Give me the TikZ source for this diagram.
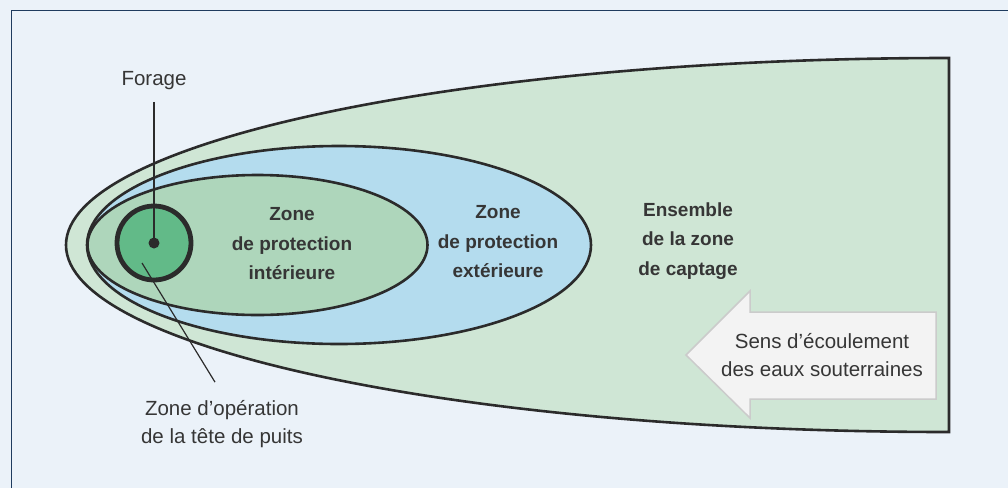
\documentclass[tikz,border=0pt]{standalone}
\usepackage{fontspec}
\setmainfont{Liberation Sans}
\usepackage{xcolor}
\usepackage{tikz}
\definecolor{bgblue}{HTML}{EBF2F9}
\definecolor{framenavy}{HTML}{1F3B5E}
\definecolor{captage}{HTML}{CFE6D5}
\definecolor{exterieure}{HTML}{B4DCEE}
\definecolor{interieure}{HTML}{AED6BB}
\definecolor{puits}{HTML}{62BA88}
\definecolor{ink}{HTML}{2B2B2B}
\definecolor{txt}{HTML}{363636}
\definecolor{arrowfill}{HTML}{F3F3F3}
\definecolor{arrowline}{HTML}{CBCBCB}

\begin{document}
\begin{tikzpicture}[x=1pt, y=1pt,
        zone/.style={draw=ink, line width=2.6pt},
        lbl/.style={align=center, text=txt, inner sep=0pt,
                    font=\fontsize{20.5}{28}\selectfont},
        zlbl/.style={lbl, font=\fontsize{19}{29.5}\selectfont\bfseries},
        lead/.style={draw=ink, line width=1.2pt},
        flow/.style={fill=arrowfill, draw=arrowline, line width=1.5pt}
    ]
        \fill[bgblue] (0,0) rectangle (1008,-488);
        \useasboundingbox (0,0) rectangle (1008,-488);
        \draw[framenavy, line width=1.6pt] (11.5,-488) -- (11.5,-10.5) -- (1008,-10.5);

        \draw[zone, fill=captage] (949,-432) -- (949,-58)
            arc[start angle=90, end angle=270, x radius=883pt, y radius=187pt] -- cycle;
        \draw[zone, fill=exterieure] (339,-245) ellipse[x radius=252pt, y radius=99pt];
        \draw[zone, fill=interieure] (257.5,-245) ellipse[x radius=170pt, y radius=70pt];
        \node[circle, draw=ink, line width=4.8pt, fill=puits, minimum size=74pt, inner sep=0pt]
            (tete) at (154,-243) {};
        \node[circle, fill=ink, minimum size=11pt, inner sep=0pt] (well) at (154,-243) {};

        \draw[flow] (686,-355) -- (750,-291) -- (750,-312) -- (936,-312)
            -- (936,-399) -- (750,-399) -- (750,-418) -- cycle;

        \node[zlbl] (zint) at (292,-244) {Zone\\de protection\\intérieure};
        \node[zlbl] (zext) at (498,-242) {Zone\\de protection\\extérieure};
        \node[zlbl] (zcap) at (688,-241) {Ensemble\\de la zone\\de captage};
        \node[lbl] (sens) at (822,-355) {Sens d’écoulement\\des eaux souterraines};
        \node[lbl] (forage) at (154,-81) {Forage};
        \node[lbl] (oplab) at (222,-424) {Zone d’opération\\de la tête de puits};

        \coordinate (opin) at (142,-263);
        \draw[lead] ([yshift=-11.5pt]forage.south) -- (well.center);
        \draw[lead] (opin) -- ([shift={(-7pt,18pt)}]oplab.north);
    \end{tikzpicture}
\end{document}
